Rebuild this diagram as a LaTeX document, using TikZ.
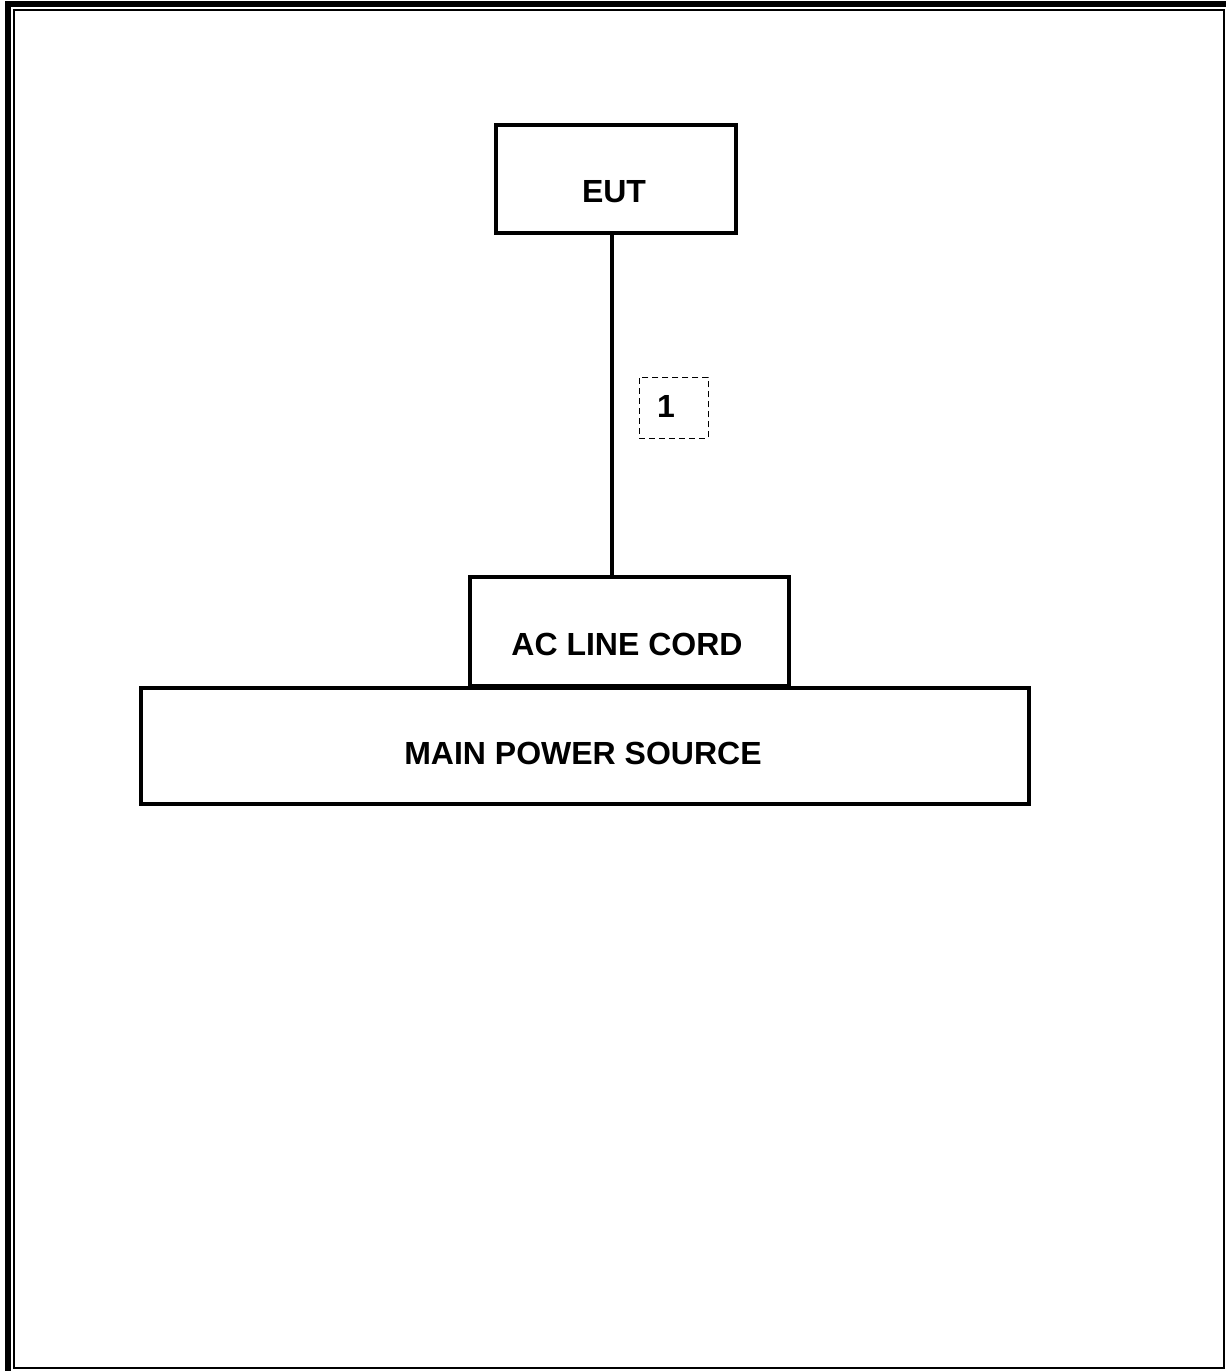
\documentclass[tikz,border=0pt]{standalone}
\usepackage{fontspec}
\setmainfont{Liberation Sans}
\begin{document}
\begin{tikzpicture}[x=1pt,y=-1pt,
  box/.style={draw,line width=4pt,inner sep=0pt,anchor=north west},
  lbl/.style={font=\fontsize{32}{38}\selectfont\bfseries,anchor=base,inner sep=0pt},
  tag/.style={draw,line width=1.5pt,dash pattern=on 6pt off 4pt,inner sep=0pt,anchor=north west,minimum width=69pt,minimum height=61pt}]
\useasboundingbox (0,0) rectangle (1226,1371);
% page border
\draw[line width=6pt] (5,4) -- (1226,4);
\draw[line width=6pt] (8,1) -- (8,1371);
\draw[line width=2pt] (14,10) rectangle (1224,1368);
% boxes
\node[box,minimum width=240pt,minimum height=108pt] (eut) at (494,123) {};
\node[box,minimum width=319pt,minimum height=109pt] (acl) at (468,575) {};
\node[box,minimum width=888pt,minimum height=116pt] (mps) at (139,686) {};
\node[lbl] (eutt) at (614,202) {EUT};
\node[lbl] (aclt) at (627,655) {AC LINE CORD};
\node[lbl] (mpst) at (583,764) {MAIN POWER SOURCE};
% cable
\coordinate (ctop) at (612,233);
\draw[line width=4pt] (ctop |- eut.south) -- (ctop |- acl.north);
% cable tag
\node[tag] (tagbox) at (638.7,376.7) {};
\node[lbl] (tagt) at (666,417) {1};
\end{tikzpicture}
\end{document}
